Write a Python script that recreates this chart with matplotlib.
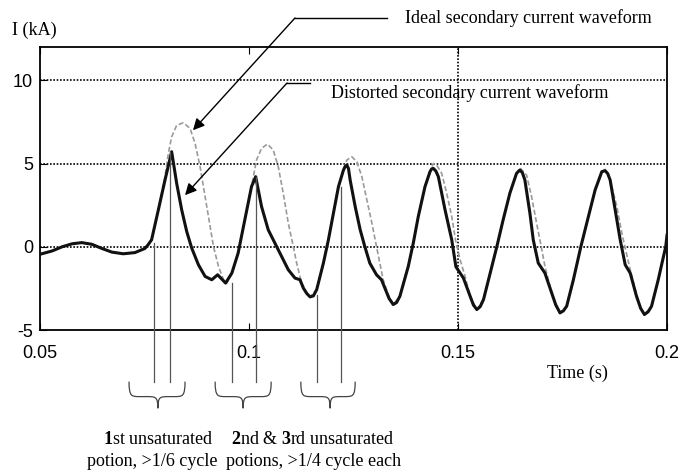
import matplotlib
matplotlib.use('Agg')
import matplotlib.pyplot as plt
from matplotlib.lines import Line2D
from matplotlib.path import Path
from matplotlib.patches import PathPatch
import numpy as np

# distorted secondary current (time in ms, current in kA)
t_dist = [50.0, 52.9, 55.3, 57.7, 60.0, 62.4, 64.8, 67.2, 69.9, 72.7, 75.1, 75.8,
          76.7, 78.3, 79.9, 81.5, 82.7, 83.9, 85.1, 86.3, 87.9, 89.5, 91.1, 92.5,
          94.4, 95.9, 97.4, 99.0, 100.6, 101.6, 103.0, 104.6, 106.2, 107.8, 109.4,
          111.0, 112.2, 113.0, 113.8, 114.6, 115.4, 116.2, 117.8, 119.0, 120.2,
          121.4, 122.6, 123.0, 123.4, 123.8, 124.2, 125.4, 126.6, 127.7, 128.9,
          130.5, 131.7, 132.5, 133.5, 134.5, 135.3, 136.1, 138.1, 139.3, 140.5,
          142.1, 143.3, 143.7, 144.1, 144.7, 145.3, 146.9, 148.5, 149.5, 151.3,
          152.9, 153.7, 154.5, 155.3, 156.1, 157.7, 159.3, 160.8, 162.4, 164.0,
          164.8, 165.4, 166.0, 167.2, 168.0, 169.2, 170.8, 172.4, 173.4, 174.4,
          175.2, 176.0, 177.6, 179.4, 181.2, 182.8, 184.4, 185.2, 185.8, 186.4,
          187.6, 188.8, 190.0, 191.2, 192.7, 193.7, 194.6, 195.5, 196.3, 197.9,
          199.7, 200.0]
i_dist = [-0.45, -0.25, 0.0, 0.18, 0.25, 0.15, -0.1, -0.32, -0.42, -0.35, -0.1, 0.1,
          0.42, 2.2, 4.0, 5.71, 3.81, 2.22, 0.92, -0.08, -1.08, -1.78, -1.98, -1.68,
          -2.18, -1.58, -0.38, 1.62, 3.61, 4.21, 2.42, 1.02, 0.22, -0.58, -1.38,
          -1.88, -1.98, -2.48, -2.8, -3.01, -2.95, -2.57, -0.98, 0.42, 2.02,
          3.61, 4.61, 4.82, 4.91, 4.7, 4.01, 2.42, 1.02, 0.02, -0.98,
          -1.68, -1.98, -2.48, -3.1, -3.47, -3.35, -2.97, -1.18, 0.22, 1.82,
          3.61, 4.51, 4.68, 4.71, 4.55, 4.21, 2.22, 0.42, -1.2, -1.88,
          -2.97, -3.5, -3.77, -3.6, -3.17, -1.58, 0.02, 1.62, 3.21, 4.41,
          4.61, 4.45, 4.01, 2.02, 0.42, -0.98, -1.58, -2.77, -3.5, -3.97,
          -3.85, -3.57, -1.98, 0.02, 1.82, 3.41, 4.51, 4.57, 4.4, 4.01,
          2.22, 0.42, -1.08, -1.58, -2.97, -3.7, -4.07, -3.9, -3.57, -1.98,
          0.02, 0.7]

# ideal secondary current
t_ideal = [50.0, 52.9, 55.3, 57.7, 60.0, 62.4, 64.8, 67.2, 69.9, 72.7, 75.1, 75.8,
           76.7, 78.3, 79.9, 80.7, 81.5, 82.7, 84.3, 85.9, 87.1, 88.3, 89.5, 90.7,
           91.5, 92.7, 93.9, 94.7, 95.9, 97.4, 99.0, 100.6, 101.8, 103.0, 104.4,
           105.8, 107.0, 108.2, 109.4, 110.6, 111.4, 112.6, 113.8, 114.6, 116.2,
           117.8, 119.0, 120.2, 121.4, 122.6, 123.4, 124.6, 125.8, 127.0, 128.2,
           129.4, 130.5, 131.3, 132.1, 133.3, 134.5, 136.1, 138.1, 139.3, 140.5,
           142.1, 143.3, 144.1, 144.9, 146.1, 147.3, 148.5, 149.4, 150.5, 151.7,
           152.9, 154.5, 156.1, 157.7, 159.3, 160.8, 162.4, 164.0, 164.8, 166.4,
           167.6, 168.8, 169.9, 170.8, 172.0, 173.2, 174.4, 176.0, 177.6, 179.4,
           181.2, 182.8, 184.4, 185.2, 186.1, 187.1, 188.0, 189.2, 190.0, 191.2,
           192.4, 193.6, 194.6, 196.3, 197.9, 199.7, 200.0]
i_ideal = [-0.45, -0.25, 0.0, 0.18, 0.25, 0.15, -0.1, -0.32, -0.42, -0.35, -0.1, 0.1,
           0.42, 2.2, 4.2, 5.6, 6.6, 7.3, 7.45, 7.11, 6.21, 4.81, 3.01, 1.22,
           0.02, -1.18, -1.98, -2.18, -1.58, -0.38, 1.62, 3.61, 5.21, 5.91, 6.17,
           5.81, 4.81, 3.21, 1.42, 0.02, -0.98, -2.18, -2.77, -3.01, -2.57,
           -0.98, 0.42, 2.02, 3.61, 4.61, 5.21, 5.41, 5.11, 4.21, 2.81,
           1.42, 0.02, -0.98, -1.98, -2.87, -3.47, -2.97, -1.18, 0.22, 1.82,
           3.61, 4.51, 5.01, 4.91, 4.41, 3.21, 1.82, 0.42, -0.78, -1.78,
           -2.97, -3.77, -3.17, -1.58, 0.02, 1.62, 3.21, 4.41, 4.75, 4.31,
           3.01, 1.42, 0.02, -1.18, -2.37, -3.3, -3.97, -3.57, -1.98, 0.02,
           1.82, 3.41, 4.51, 4.65, 4.3, 3.3, 2.42, 0.82, -0.08, -1.38,
           -2.57, -3.6, -4.07, -3.57, -1.98, 0.02, 0.7]

# unsaturated portions markers (ms) and where they start on the curve (kA)
mark_t = [77.3, 81.1, 95.9, 101.7, 116.3, 122.0]
mark_top = [0.2, 5.7, -2.2, 4.2, -2.9, 3.6]
brace_left = [71.3, 91.9, 112.4]
brace_right = [84.7, 105.3, 125.4]
brace_tip = [78.2, 98.6, 119.4]

x_ticks = [0.05, 0.1, 0.15, 0.2]
x_labels = ['0.05', '0.1', '0.15', '0.2']
y_ticks = [-5, 0, 5, 10]

plt.rcParams['font.family'] = ['Liberation Sans', 'DejaVu Sans']
plt.rcParams['axes.unicode_minus'] = False
plt.rcParams['mathtext.fontset'] = 'custom'
plt.rcParams['mathtext.rm'] = 'Liberation Serif'
plt.rcParams['mathtext.bf'] = 'Liberation Serif:bold'
serif = ['Liberation Serif', 'DejaVu Serif']

fig = plt.figure(figsize=(6.8, 4.72), dpi=100)
ax = fig.add_axes([0.0588, 0.3008, 0.9221, 0.5996])

td = np.array(t_dist) / 1000.
ti = np.array(t_ideal) / 1000.
ax.plot(ti, i_ideal, color='#9a9a9a', lw=1.2, dashes=(3, 1.5), zorder=2)
ax.plot(td, i_dist, color='#111111', lw=2.2, zorder=3,
        solid_joinstyle='round')

for y in [0, 5, 10]:
    ax.axhline(y, color='k', lw=1.2, ls=(0, (1, 1)), zorder=1)
ax.axvline(0.15, color='k', lw=1.2, ls=(0, (1, 1)), zorder=1)

ax.set_xlim(0.05, 0.2)
ax.set_ylim(-5, 12)
ax.set_xticks(x_ticks)
ax.set_xticklabels(x_labels)
ax.set_yticks(y_ticks)
ax.tick_params(direction='in', length=5, top=True, labelsize=13)
ax.tick_params(axis='x', pad=11)
ax.tick_params(axis='y', pad=5)
for s in ax.spines.values():
    s.set_linewidth(1.3)

# vertical markers below the curve
y_bot = -8.1
for t, top in zip(mark_t, mark_top):
    ax.plot([t / 1000., t / 1000.], [top, y_bot], color='#555555', lw=0.9,
            clip_on=False, zorder=4)

# curly braces
y_mid, y_tip = -9.0, -9.7
for l, r, m in zip(brace_left, brace_right, brace_tip):
    l, r, m = l / 1000., r / 1000., m / 1000.
    q = (r - l) * 0.2
    verts = [(l, y_bot), (l + 0.01 * q, y_mid), (l + 0.2 * q, y_mid), (l + q, y_mid),
             (m - q, y_mid),
             (m - 0.2 * q, y_mid), (m, y_mid), (m, y_tip),
             (m, y_mid), (m + 0.2 * q, y_mid), (m + q, y_mid),
             (r - q, y_mid),
             (r - 0.2 * q, y_mid), (r - 0.01 * q, y_mid), (r, y_bot)]
    codes = [Path.MOVETO, Path.CURVE4, Path.CURVE4, Path.CURVE4,
             Path.LINETO,
             Path.CURVE4, Path.CURVE4, Path.CURVE4,
             Path.CURVE4, Path.CURVE4, Path.CURVE4,
             Path.LINETO,
             Path.CURVE4, Path.CURVE4, Path.CURVE4]
    ax.add_patch(PathPatch(Path(verts, codes), fill=False, color='#444444',
                           lw=0.9, clip_on=False))

# labels
fig.text(0.0176, 0.9364, 'I (kA)', family=serif, fontsize=13, va='center')
fig.text(0.8485, 0.2097, 'Time (s)', family=serif, fontsize=13,
         ha='center', va='center')
fig.text(0.5956, 0.9619, 'Ideal secondary current waveform', family=serif,
         fontsize=13, va='center')
fig.text(0.4868, 0.803, 'Distorted secondary current waveform', family=serif,
         fontsize=13, va='center')
fig.text(0.2324, 0.0678, r'$\mathbf{1}$st unsaturated', family=serif,
         fontsize=13, ha='center', va='center')
fig.text(0.2235, 0.0212, 'potion, >1/6 cycle', family=serif, fontsize=13,
         ha='center', va='center')
fig.text(0.4603, 0.0678, r'$\mathbf{2}$nd & $\mathbf{3}$rd unsaturated',
         family=serif, fontsize=13, ha='center', va='center')
fig.text(0.4618, 0.0212, 'potions, >1/4 cycle each', family=serif,
         fontsize=13, ha='center', va='center')

# leader arrows
fig.add_artist(Line2D([0.5691, 0.4338], [0.9619, 0.9619], color='k', lw=1,
                      transform=fig.transFigure))
ax.annotate('', xy=(0.0866, 7.0), xycoords='data',
            xytext=(0.4338, 0.9619), textcoords='figure fraction',
            arrowprops=dict(arrowstyle='-|>', color='k', lw=1,
                            mutation_scale=17, shrinkA=0, shrinkB=0))
fig.add_artist(Line2D([0.4559, 0.4221], [0.8242, 0.8242], color='k', lw=1,
                      transform=fig.transFigure))
ax.annotate('', xy=(0.0847, 3.1), xycoords='data',
            xytext=(0.4221, 0.8242), textcoords='figure fraction',
            arrowprops=dict(arrowstyle='-|>', color='k', lw=1,
                            mutation_scale=17, shrinkA=0, shrinkB=0))

fig.savefig('out.png', dpi=100)
